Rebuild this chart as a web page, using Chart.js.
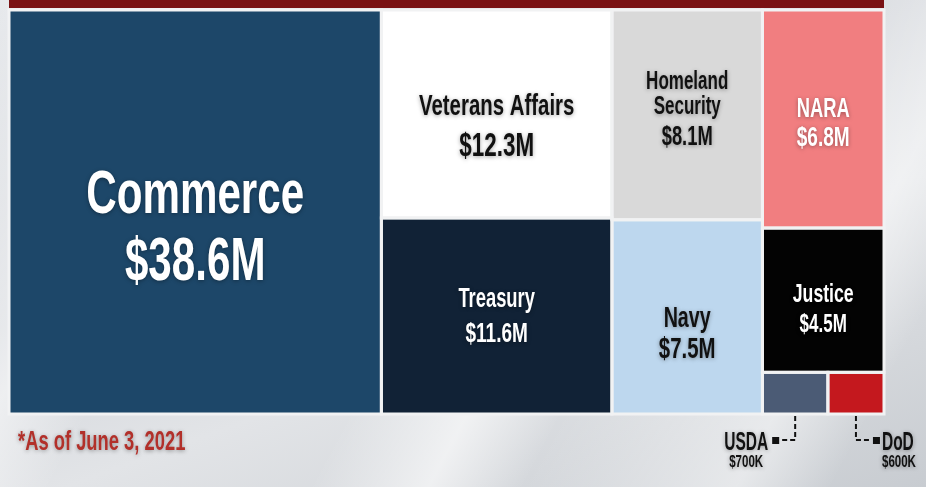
<!DOCTYPE html>
<html>
<head>
<meta charset="utf-8">
<script src="https://cdn.jsdelivr.net/npm/chart.js@4.4.1/dist/chart.umd.min.js"></script>
<style>
  html, body { margin: 0; padding: 0; }
  body {
    width: 926px; height: 487px; overflow: hidden; position: relative;
    background:
      linear-gradient(118deg, rgba(255,255,255,0) 0%, rgba(255,255,255,0.55) 18%, rgba(255,255,255,0) 26%, rgba(255,255,255,0) 48%, rgba(255,255,255,0.6) 58%, rgba(255,255,255,0) 66%, rgba(255,255,255,0.5) 84%, rgba(255,255,255,0) 92%),
      linear-gradient(160deg, #e7e9ec 0%, #d3d6db 40%, #e2e4e7 62%, #c8ccd1 100%);
  }
  #topbar { position: absolute; left: 9px; top: 0; width: 875px; height: 8px; background: #7a1214; }
  canvas { position: absolute; left: 0; top: 0; }
</style>
</head>
<body>
<div id="topbar"></div>
<canvas id="c" width="926" height="487"></canvas>
<script>
// ---- data ----
const categories = ["Commerce", "Veterans Affairs", "Treasury", "Homeland Security", "NARA", "Navy", "Justice", "USDA", "DoD"];
const values = [38.6, 12.3, 11.6, 8.1, 6.8, 7.5, 4.5, 0.7, 0.6]; // $ millions
const nameLines = [["Commerce"], ["Veterans Affairs"], ["Treasury"], ["Homeland", "Security"], ["NARA"], ["Navy"], ["Justice"], ["USDA"], ["DoD"]];
// treemap grouping: columns, each a list of rows; a nested list is a row split side by side
const columns = [
  ["Commerce"],
  ["Veterans Affairs", "Treasury"],
  ["Homeland Security", "Navy"],
  ["NARA", "Justice", ["USDA", "DoD"]]
];
const footnote = "*As of June 3, 2021";

// ---- styles ----
const colors = {
  "Commerce": "#1d4769", "Veterans Affairs": "#ffffff", "Treasury": "#112236",
  "Homeland Security": "#d9d9d9", "NARA": "#f17e80", "Navy": "#bdd7ee",
  "Justice": "#030303", "USDA": "#4b5b75", "DoD": "#c4181e"
};
const labelStyle = {
  "Commerce": { size: 62, vsize: 62, lh: 67, vgap: 67, dy: 1, color: "#ffffff" },
  "Veterans Affairs": { size: 30, vsize: 33, lh: 41, vgap: 41, dy: 1, color: "#111111" },
  "Treasury": { size: 27, vsize: 28, lh: 35, vgap: 35, dy: -9, color: "#ffffff" },
  "Homeland Security": { size: 25, vsize: 27, lh: 25, vgap: 31, dy: -26, color: "#111111" },
  "NARA": { size: 27, vsize: 28, lh: 29, vgap: 29, dy: -2, color: "#ffffff" },
  "Navy": { size: 29, vsize: 30, lh: 31, vgap: 31, dy: 10, color: "#111111" },
  "Justice": { size: 26, vsize: 25, lh: 30, vgap: 30, dy: 2, color: "#ffffff" }
};
const FONT = '"Liberation Sans", Arial, sans-serif';
const SQUEEZE = 0.68;

function fmt(v) { return v >= 1 ? "$" + v.toFixed(1) + "M" : "$" + Math.round(v * 1000) + "K"; }
const valueOf = n => values[categories.indexOf(n)];
const total = values.reduce((a, b) => a + b, 0);

// ---- treemap layout in data units (x: 0..total, y: 0..1) ----
const rects = {};
(function () {
  let x = 0;
  for (const col of columns) {
    const flat = col.flat();
    const colSum = flat.reduce((a, n) => a + valueOf(n), 0);
    let y = 0;
    for (const item of col) {
      if (Array.isArray(item)) {
        const rowSum = item.reduce((a, n) => a + valueOf(n), 0);
        const h = rowSum / colSum;
        let xx = x;
        for (const n of item) {
          const w = valueOf(n) / rowSum * colSum;
          rects[n] = { x0: xx, x1: xx + w, y0: y, y1: y + h };
          xx += w;
        }
        y += h;
      } else {
        const h = valueOf(item) / colSum;
        rects[item] = { x0: x, x1: x + colSum, y0: y, y1: y + h };
        y += h;
      }
    }
    x += colSum;
  }
})();

const datasets = categories.map(n => ({
  label: n,
  data: [{ x: rects[n].x0, y: rects[n].y0 }, { x: rects[n].x1, y: rects[n].y0 }],
  fill: { value: rects[n].y1 },
  backgroundColor: colors[n],
  borderWidth: 0,
  pointRadius: 0,
  tension: 0
}));

function pxRect(chart, n) {
  const xs = chart.scales.x, ys = chart.scales.y, r = rects[n];
  const a = xs.getPixelForValue(r.x0), b = xs.getPixelForValue(r.x1);
  const c = ys.getPixelForValue(r.y0), d = ys.getPixelForValue(r.y1);
  return { left: Math.min(a, b), right: Math.max(a, b), top: Math.min(c, d), bottom: Math.max(c, d) };
}

function text(ctx, s, x, y, size, color, align, squeeze) {
  ctx.save();
  ctx.translate(x, y);
  ctx.scale(squeeze || SQUEEZE, 1);
  ctx.font = "bold " + size + "px " + FONT;
  ctx.textAlign = "center";
  ctx.textBaseline = "alphabetic";
  let ox = 0;
  if (align && align !== "center") {
    const w = ctx.measureText(s).width;
    ox = align === "right" ? -w / 2 : w / 2;
  }
  ctx.fillStyle = color;
  ctx.shadowColor = "rgba(0,0,0,0.35)";
  ctx.shadowBlur = 4;
  ctx.shadowOffsetY = 1;
  ctx.fillText(s, ox, 0);
  ctx.restore();
}

const treemapPlugin = {
  id: "treemapDecor",
  afterDatasetsDraw(chart) {
    const ctx = chart.ctx;
    ctx.save();
    ctx.strokeStyle = "#f1f2f3";
    ctx.lineWidth = 3;
    for (const n of categories) {
      const p = pxRect(chart, n);
      ctx.strokeRect(p.left, p.top, p.right - p.left, p.bottom - p.top);
    }
    ctx.restore();
  },
  afterDraw(chart) {
    const ctx = chart.ctx;
    // in-cell labels
    categories.forEach((n, i) => {
      const st = labelStyle[n];
      if (!st) return;
      const p = pxRect(chart, n);
      const cx = (p.left + p.right) / 2, cy = (p.top + p.bottom) / 2;
      let y = cy + st.dy;
      nameLines[i].forEach((s, k) => {
        if (k > 0) y += st.lh;
        text(ctx, s, cx, y, st.size, st.color, "center");
      });
      text(ctx, fmt(values[i]), cx, y + st.vgap, st.vsize, st.color, "center");
    });
    // callouts for the small cells
    const callouts = [["USDA", -1], ["DoD", 1]];
    for (const [n, dir] of callouts) {
      const p = pxRect(chart, n);
      const cx = (p.left + p.right) / 2;
      const yb = p.bottom + 2, yl = 440;
      ctx.save();
      ctx.strokeStyle = "#111";
      ctx.lineWidth = 2;
      ctx.setLineDash([5, 3]);
      ctx.beginPath();
      ctx.moveTo(cx, yb);
      ctx.lineTo(cx, yl);
      ctx.lineTo(cx + dir * 16, yl);
      ctx.stroke();
      ctx.setLineDash([]);
      ctx.fillStyle = "#111";
      ctx.fillRect(cx + dir * 20 - 3, yl - 3, 7, 7);
      ctx.restore();
      const i = categories.indexOf(n);
      if (dir < 0) {
        text(ctx, n, cx - 27, 450, 25, "#111111", "right", 0.62);
        text(ctx, fmt(values[i]), cx - 49, 467, 16, "#111111", "center", 0.72);
      } else {
        text(ctx, n, cx + 26, 450, 25, "#111111", "left", 0.62);
        text(ctx, fmt(values[i]), cx + 43, 467, 16, "#111111", "center", 0.72);
      }
    }
    // footnote
    text(ctx, footnote, 18, 450, 27, "#b2302a", "left", 0.68);
  }
};

new Chart(document.getElementById("c"), {
  type: "line",
  data: { datasets },
  options: {
    responsive: false,
    animation: false,
    events: [],
    layout: { padding: { left: 9, top: 10, right: 42, bottom: 73 } },
    scales: {
      x: { type: "linear", min: 0, max: total, display: false },
      y: { type: "linear", min: 0, max: 1, reverse: true, display: false }
    },
    plugins: { legend: { display: false }, tooltip: { enabled: false } }
  },
  plugins: [treemapPlugin]
});
</script>
</body>
</html>
